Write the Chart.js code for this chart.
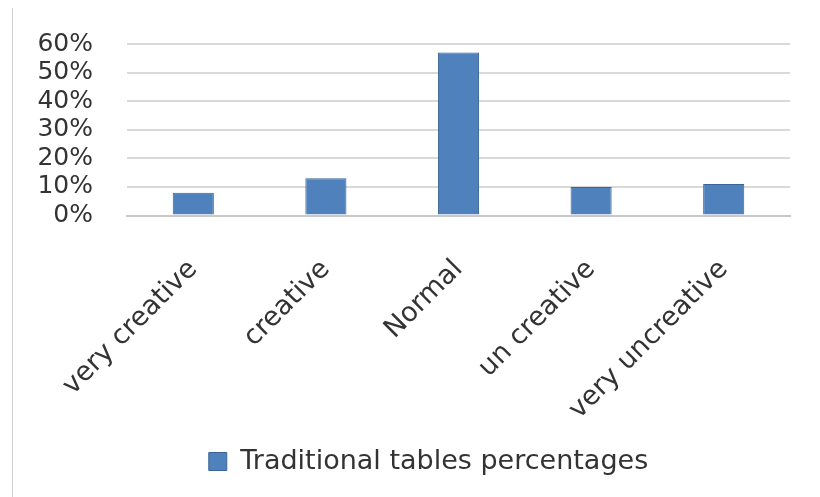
<!DOCTYPE html>
<html>
<head>
<meta charset="utf-8">
<script src="https://cdn.jsdelivr.net/npm/chart.js@4"></script>
<style>
  html, body { margin: 0; padding: 0; background: #fff; }
  #wrap { position: relative; width: 820px; height: 497px; }
  #frame { position: absolute; left: 12px; top: 8px; width: 1px; height: 489px; background: #d0d0d0; }
</style>
</head>
<body>
<div id="wrap">
  <div id="frame"></div>
  <canvas id="chart" width="820" height="497"></canvas>
</div>
<script>
const categories = ['very creative', 'creative', 'Normal', 'un creative', 'very uncreative'];
const percentages = [8, 13, 57, 10, 11];
const seriesName = 'Traditional tables percentages';
const yTicks = [0, 10, 20, 30, 40, 50, 60];

const fontFamily = "'DejaVu Sans', 'Open Sans', sans-serif";

// nudge the legend a little to the right, as in the original
const legendShift = {
    id: 'legendShift',
    afterLayout(chart) {
        if (chart.legend) {
            chart.legend.left += 16;
            chart.legend.right += 16;
        }
    }
};

new Chart(document.getElementById('chart'), {
    type: 'bar',
    data: {
        labels: categories,
        datasets: [{
            label: seriesName,
            data: percentages,
            backgroundColor: '#4f81bd',
            borderColor: '#3b6595',
            borderWidth: 1,
            categoryPercentage: 1,
            barPercentage: 0.31
        }]
    },
    options: {
        responsive: false,
        animation: false,
        layout: {
            padding: { top: 44, left: 35, right: 30, bottom: 12 }
        },
        plugins: {
            legend: {
                display: true,
                position: 'bottom',
                labels: {
                    font: { family: fontFamily, size: 27 },
                    color: '#333333',
                    boxWidth: 18,
                    boxHeight: 18,
                    padding: 9
                }
            },
            tooltip: { enabled: false }
        },
        scales: {
            y: {
                min: yTicks[0],
                max: yTicks[yTicks.length - 1],
                afterBuildTicks: function (axis) {
                    axis.ticks = yTicks.map(v => ({ value: v }));
                },
                afterFit: function (axis) {
                    axis.width = 92;
                    axis.paddingTop = 0;
                    axis.paddingBottom = 0;
                },
                ticks: {
                    autoSkip: false,
                    callback: v => v + '%',
                    font: { family: fontFamily, size: 25 },
                    color: '#333333',
                    padding: 34
                },
                grid: { color: '#d9d9d9', lineWidth: 2, drawTicks: false },
                border: { display: false }
            },
            x: {
                afterFit: function (axis) {
                    axis.paddingLeft = 0;
                    axis.paddingRight = 0;
                    axis.height += 3;
                },
                ticks: {
                    minRotation: 45,
                    maxRotation: 45,
                    autoSkip: false,
                    font: { family: fontFamily, size: 27 },
                    color: '#333333',
                    padding: 30
                },
                grid: { display: false },
                border: { color: '#c8c8c8', width: 2 }
            }
        }
    },
    plugins: [legendShift]
});
</script>
</body>
</html>
